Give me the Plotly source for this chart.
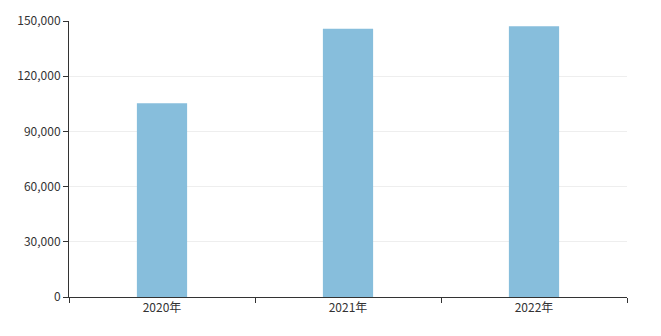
import plotly.graph_objects as go

categories = ["2020年", "2021年", "2022年"]
values = [105300, 145800, 147100]
y_ticks = [0, 30000, 60000, 90000, 120000, 150000]

fig = go.Figure(go.Bar(
    x=categories, y=values, marker_color="#87bedc", width=0.27,
    marker_line_width=0,
))
fig.update_layout(
    width=661, height=336,
    margin=dict(l=69, r=34, t=21, b=39),
    plot_bgcolor="white", paper_bgcolor="white",
    font=dict(family="Noto Sans CJK SC, Noto Sans, sans-serif", size=12, color="#333"),
    showlegend=False,
)
fig.update_xaxes(
    showline=True, linecolor="#333", linewidth=1,
    ticks="outside", ticklen=5, tickcolor="#333", tickson="boundaries",
    showgrid=False,
)
fig.update_yaxes(
    range=[0, 150000], tickvals=y_ticks, tickformat=",d",
    showline=True, linecolor="#333", linewidth=1,
    ticks="outside", ticklen=5, tickcolor="#333",
    showgrid=True, gridcolor="#eeeeee", zeroline=False,
)
fig.write_html("out.html")
